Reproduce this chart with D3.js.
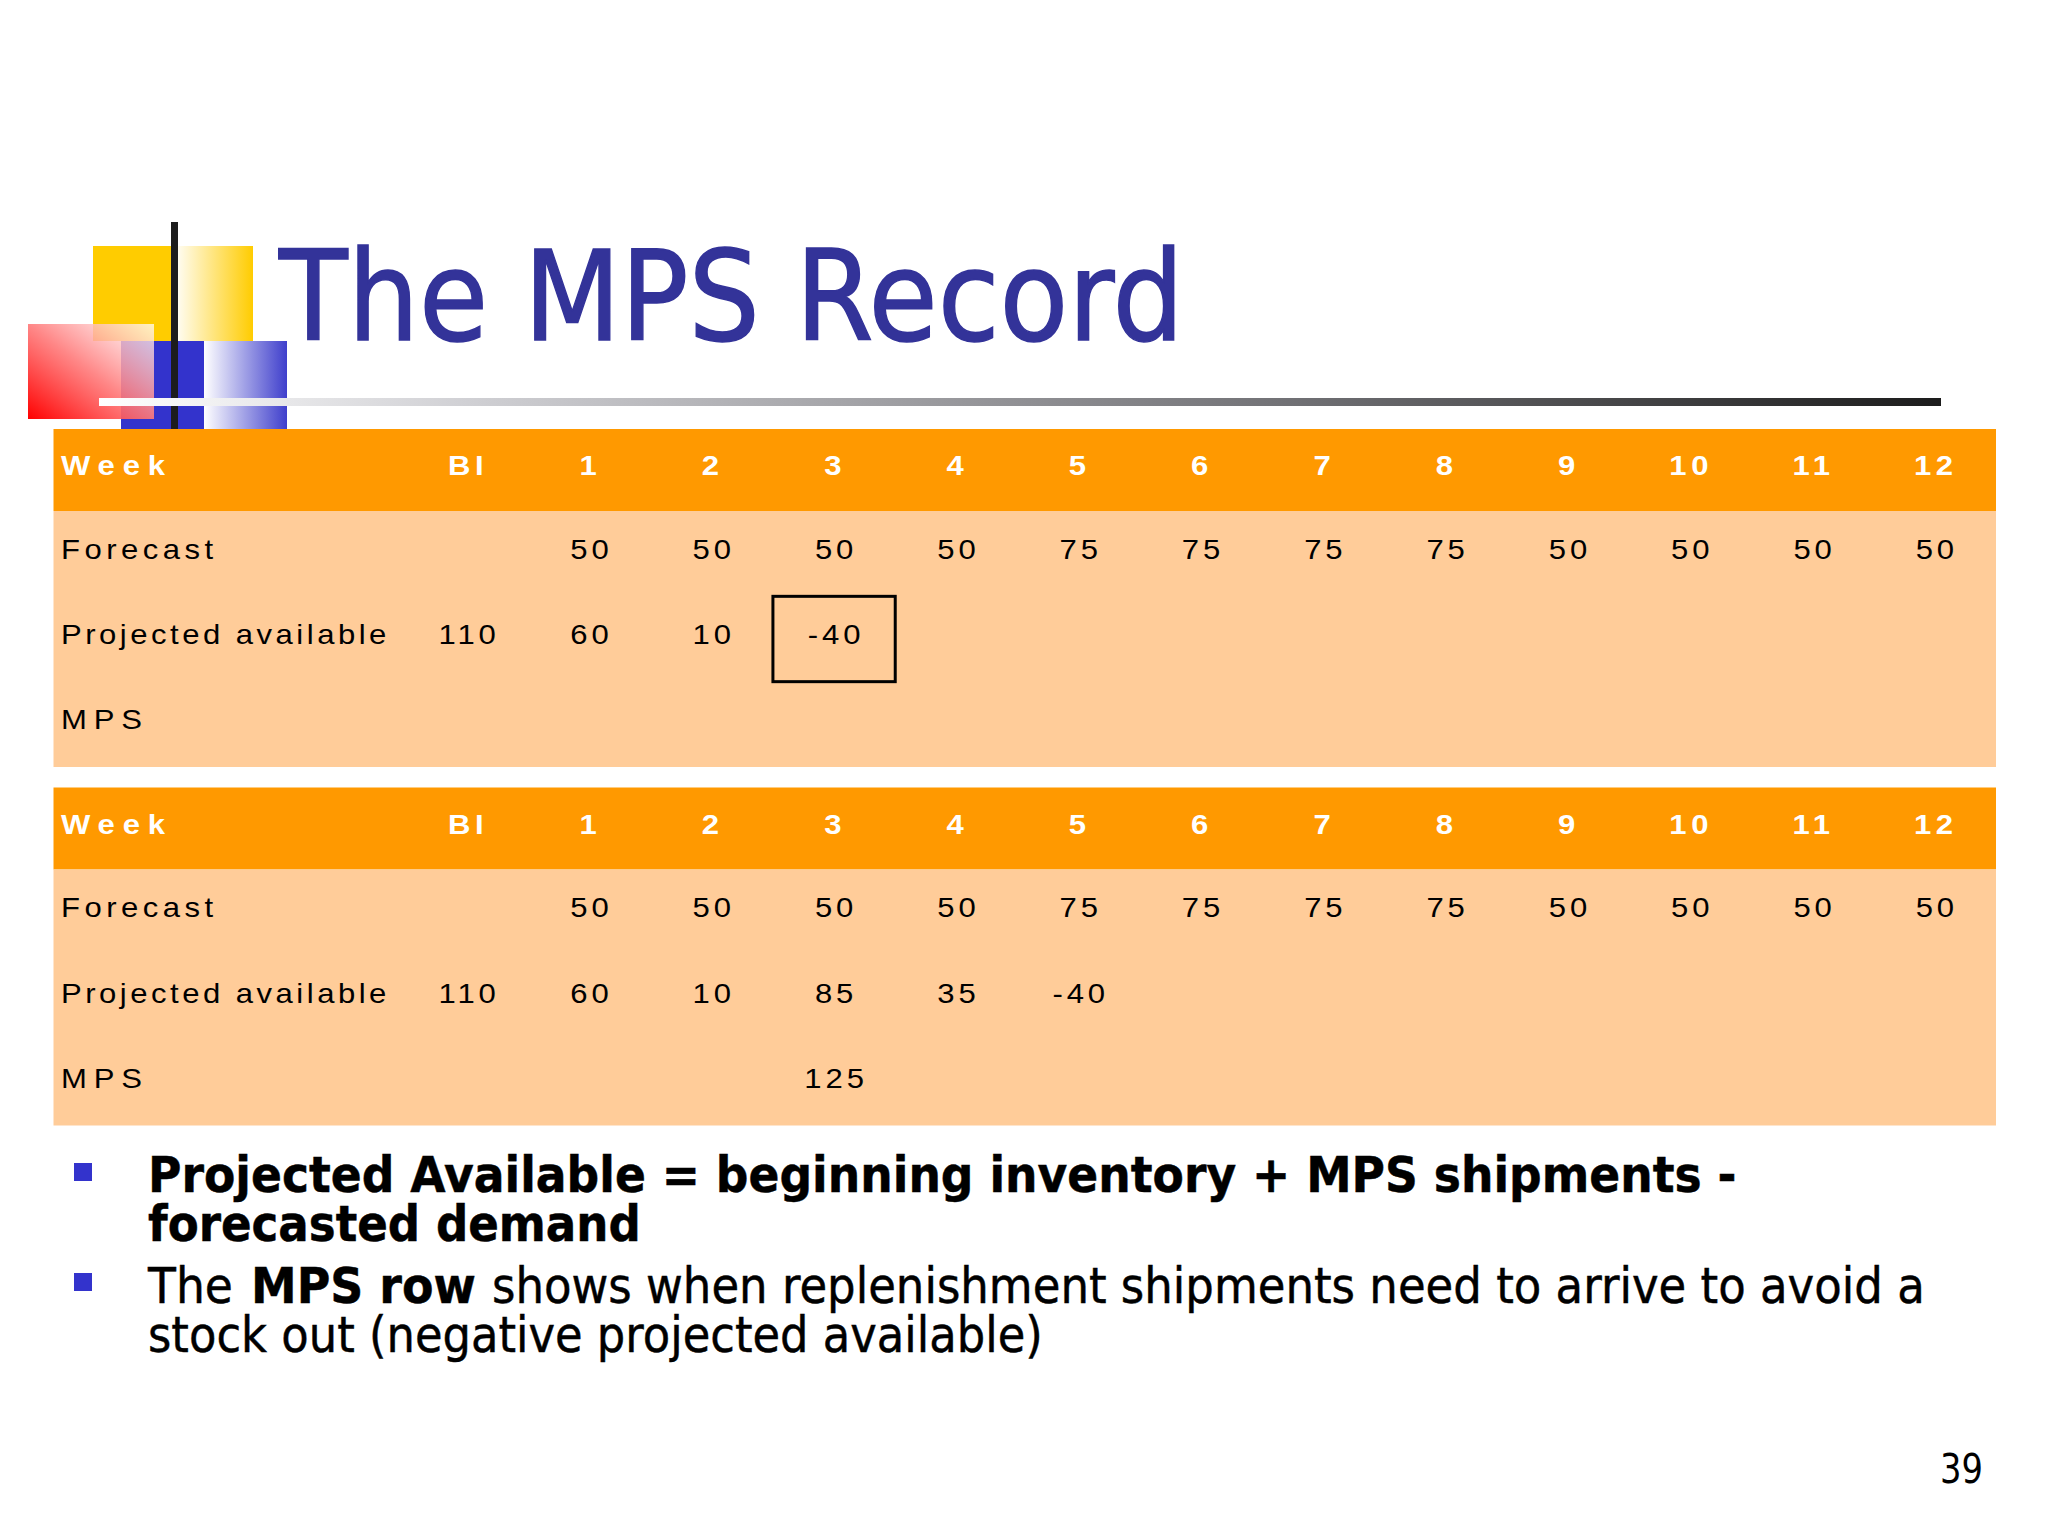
<!DOCTYPE html>
<html>
<head>
<meta charset="utf-8">
<script src="https://d3js.org/d3.v7.min.js"></script>
<style>
  html, body { margin: 0; padding: 0; background: #fff; }
  svg { display: block; }
</style>
</head>
<body>
<script>
var columns = ["BI", "1", "2", "3", "4", "5", "6", "7", "8", "9", "10", "11", "12"];
var rowNames = ["Forecast", "Projected available", "MPS"];

var forecast = [null, 50, 50, 50, 50, 75, 75, 75, 75, 50, 50, 50, 50];

var projectedA = [110, 60, 10, -40, null, null, null, null, null, null, null, null, null];
var mpsA = [null, null, null, null, null, null, null, null, null, null, null, null, null];

var projectedB = [110, 60, 10, 85, 35, -40, null, null, null, null, null, null, null];
var mpsB = [null, null, null, 125, null, null, null, null, null, null, null, null, null];

var width = 2048, height = 1536;
var armFont = "'Liberation Sans', Arial, sans-serif";
var slideFont = "'DejaVu Sans', Tahoma, sans-serif";
var stretch = 1.15;
var nameSpacing = d3.scaleOrdinal().domain(rowNames).range([3.9, 3.05, 6]);

var svg = d3.select("body").append("svg")
  .attr("width", width)
  .attr("height", height);

svg.append("rect").attr("width", width).attr("height", height).attr("fill", "#fff");

var defs = svg.append("defs");

function addGradient(id, x1, y1, x2, y2, stops) {
  var g = defs.append("linearGradient").attr("id", id)
    .attr("x1", x1).attr("y1", y1).attr("x2", x2).attr("y2", y2);
  stops.forEach(function(s) {
    g.append("stop").attr("offset", s[0]).attr("stop-color", s[1]).attr("stop-opacity", s[2]);
  });
}

addGradient("yellowFade", 0, 0, 1, 0, [[0, "#ffffff", 1], [1, "#ffcc00", 1]]);
addGradient("blueFade", 0, 0, 1, 0, [[0, "#ffffff", 1], [1, "#3f3fcc", 1]]);
addGradient("redFade", 0, 1, 1, 0, [[0, "#ff0000", 1], [0.5, "#ff7a7a", 0.9], [1, "#ffffff", 0.75]]);
addGradient("ruleFade", 0, 0, 1, 0, [[0, "#ffffff", 1], [0.2, "#d0d0d4", 1], [0.65, "#707074", 1], [1, "#1c1c1c", 1]]);

// slide template blocks
var deco = svg.append("g");
deco.append("rect").attr("x", 93).attr("y", 246).attr("width", 80).attr("height", 95).attr("fill", "#ffcc00");
deco.append("rect").attr("x", 173).attr("y", 246).attr("width", 80).attr("height", 95).attr("fill", "url(#yellowFade)");
deco.append("rect").attr("x", 121).attr("y", 341).attr("width", 83).attr("height", 88).attr("fill", "#3333cc");
deco.append("rect").attr("x", 204).attr("y", 341).attr("width", 83).attr("height", 88).attr("fill", "url(#blueFade)");
deco.append("rect").attr("x", 171).attr("y", 222).attr("width", 7).attr("height", 207).attr("fill", "#1c1c1c");
deco.append("rect").attr("x", 28).attr("y", 324).attr("width", 126).attr("height", 95).attr("fill", "url(#redFade)");
deco.append("rect").attr("x", 99).attr("y", 398).attr("width", 1842).attr("height", 8).attr("fill", "url(#ruleFade)");

// squeeze a text to the measured width of the original
function fit(text, x, target) {
  var w = text.node().getComputedTextLength();
  text.attr("transform", "translate(" + x + ",0) scale(" + (target / w) + ",1)");
  return text;
}

fit(svg.append("text")
  .attr("y", 340)
  .attr("font-family", slideFont)
  .attr("font-size", 124)
  .attr("fill", "#333399")
  .attr("stroke", "#333399")
  .attr("stroke-width", 1.5)
  .text("The MPS Record"), 279, 905);

// one table
var x = d3.scaleBand().domain(columns).range([406, 1996]);

function cellTransform(col, baseline, nudge) {
  return "translate(" + (x(col) + x.bandwidth() / 2 + nudge) + "," + baseline + ") scale(" + stretch + ",1)";
}

function drawTable(top, projected, mps, boxed) {
  var g = svg.append("g").attr("transform", "translate(0," + top + ")");
  var y = d3.scaleBand().domain(rowNames).range([82, 338]);
  var rows = [forecast, projected, mps];

  g.append("rect").attr("x", 53.5).attr("y", 0).attr("width", 1942.5).attr("height", 82).attr("fill", "#ff9900");
  g.append("rect").attr("x", 53.5).attr("y", 82).attr("width", 1942.5).attr("height", 256).attr("fill", "#ffcc99");

  g.append("text")
    .attr("transform", "translate(61,46) scale(1.15,1)")
    .attr("font-family", armFont).attr("font-size", 27).attr("font-weight", "bold")
    .attr("letter-spacing", 6.8).attr("fill", "#fff")
    .text("Week");

  g.selectAll("text.head")
    .data(columns)
    .enter().append("text")
    .attr("class", "head")
    .attr("transform", function(d) { return cellTransform(d, 46, 1); })
    .attr("text-anchor", "middle")
    .attr("font-family", armFont).attr("font-size", 27).attr("font-weight", "bold")
    .attr("letter-spacing", 4).attr("fill", "#fff")
    .text(function(d) { return d; });

  g.selectAll("text.rowName")
    .data(rowNames)
    .enter().append("text")
    .attr("class", "rowName")
    .attr("transform", function(d) { return "translate(61," + (y(d) + 47.7) + ") scale(1.15,1)"; })
    .attr("font-family", armFont).attr("font-size", 27)
    .attr("letter-spacing", function(d) { return nameSpacing(d); }).attr("fill", "#000")
    .text(function(d) { return d; });

  rows.forEach(function(values, r) {
    var cells = values.map(function(v, i) { return { col: columns[i], value: v }; })
      .filter(function(d) { return d.value !== null; });
    g.selectAll("text.row" + r)
      .data(cells)
      .enter().append("text")
      .attr("class", "row" + r)
      .attr("transform", function(d) { return cellTransform(d.col, y(rowNames[r]) + 47.7, 2); })
      .attr("text-anchor", "middle")
      .attr("font-family", armFont).attr("font-size", 27)
      .attr("letter-spacing", 3.4).attr("fill", "#000")
      .text(function(d) { return d.value; });
  });

  if (boxed) {
    g.append("rect")
      .attr("x", x(boxed))
      .attr("y", y("Projected available"))
      .attr("width", x.bandwidth())
      .attr("height", y.bandwidth())
      .attr("fill", "none")
      .attr("stroke", "#000")
      .attr("stroke-width", 3);
  }
}

drawTable(429, projectedA, mpsA, "3");
drawTable(787.5, projectedB, mpsB, null);

// bullets
[1163, 1273].forEach(function(by) {
  svg.append("rect").attr("x", 74).attr("y", by).attr("width", 18).attr("height", 18).attr("fill", "#3333cc");
});

function bodyPart(baseline, words, bold, left, target) {
  fit(svg.append("text")
    .attr("y", baseline)
    .attr("font-family", slideFont)
    .attr("font-size", 50)
    .attr("font-weight", bold ? "bold" : "normal")
    .attr("fill", "#000")
    .attr("stroke", "#000")
    .attr("stroke-width", 0.5)
    .text(words), left, target);
}

bodyPart(1192, "Projected Available = beginning inventory + MPS shipments -", true, 148, 1589);
bodyPart(1241, "forecasted demand", true, 148, 493);
bodyPart(1303, "The", false, 148, 85);
bodyPart(1303, "MPS row", true, 251, 225);
bodyPart(1303, "shows when replenishment shipments need to arrive to avoid a", false, 492, 1433);
bodyPart(1352, "stock out (negative projected available)", false, 148, 895);

fit(svg.append("text")
  .attr("y", 1483)
  .attr("font-family", slideFont)
  .attr("font-size", 40)
  .attr("fill", "#000")
  .text("39"), 1940, 43);
</script>
</body>
</html>
